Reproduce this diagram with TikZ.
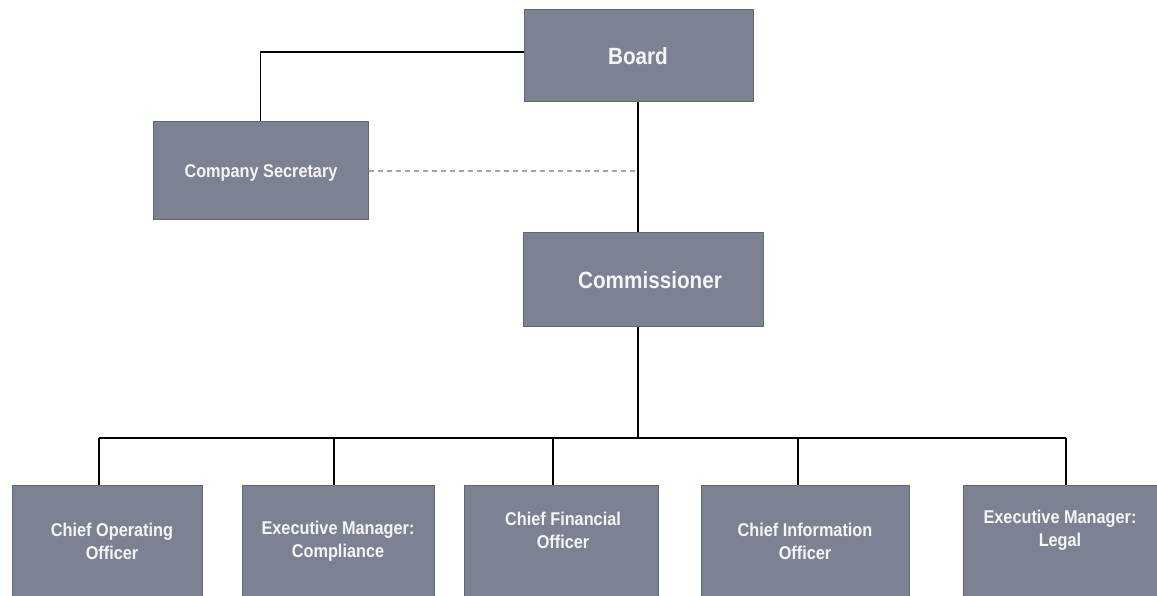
\documentclass[tikz,border=0pt]{standalone}
\usepackage{fontspec}
\newfontfamily\lblfont[FakeStretch=0.88]{Liberation Sans Bold}
\definecolor{boxfill}{RGB}{124,130,145}
\definecolor{boxline}{RGB}{98,103,116}
\definecolor{dashgray}{RGB}{165,165,165}
\definecolor{txtcol}{RGB}{244,245,248}
\begin{document}
\begin{tikzpicture}[x=1pt,y=-1pt,
  orgbox/.style={draw=boxline,fill=boxfill,line width=1pt,inner sep=0pt,
    minimum height=#1},
  orgbox/.default=92pt,
  biglbl/.style={font=\lblfont\fontsize{23.5}{28}\selectfont,text=txtcol,align=center,inner sep=0pt},
  smalllbl/.style={font=\lblfont\fontsize{18.5}{23}\selectfont,text=txtcol,align=center,inner sep=0pt},
  conn/.style={line width=1.8pt,draw=black},
  dconn/.style={line width=1.5pt,draw=dashgray,dash pattern=on 5pt off 4pt}]
\useasboundingbox (0,0) rectangle (1157,596);
% boxes
\node[orgbox=92pt,minimum width=229pt] (board) at (638.5,56) {};
\node[orgbox=98pt,minimum width=215pt] (cs) at (260.5,171) {};
\node[orgbox=93pt,minimum width=240pt] (comm) at (643,279.5) {};
\node[orgbox=115pt,minimum width=190pt] (coo) at (107,542.5) {};
\node[orgbox=115pt,minimum width=192pt] (comp) at (338,542.5) {};
\node[orgbox=115pt,minimum width=194pt] (cfo) at (561,542.5) {};
\node[orgbox=115pt,minimum width=208pt] (cio) at (805,542.5) {};
\node[orgbox=115pt,minimum width=194pt] (legal) at (1060,542.5) {};
% labels
\node[biglbl] (board-t) at (638,56) {Board};
\node[biglbl] (comm-t) at (650,280) {Commissioner};
\node[smalllbl] (cs-t) at (261,173) {Company Secretary};
\node[smalllbl] (coo-t) at (112,541) {Chief Operating\\Officer};
\node[smalllbl] (comp-t) at (338,541) {Executive Manager:\\Compliance};
\node[smalllbl] (cfo-t) at (563,530) {Chief Financial\\Officer};
\node[smalllbl] (cio-t) at (805,541) {Chief Information\\Officer};
\node[smalllbl] (legal-t) at (1060,530) {Executive Manager:\\Legal};
% bus coordinates
\coordinate (bc) at (638,438);
\coordinate (b1) at (99,438);
\coordinate (b2) at (334,438);
\coordinate (b3) at (553,438);
\coordinate (b4) at (798,438);
\coordinate (b5) at (1066,438);
% connectors
\draw[conn] ([yshift=4pt]board.west) -| (cs.north);
\draw[conn] (bc |- board.south) -- (bc |- comm.north);
\draw[dconn] (cs.east) -- (bc |- cs.east);
\draw[conn] (bc |- comm.south) -- (bc);
\draw[conn] (b1) -- (b5);
\draw[conn] (b1) -- (b1 |- coo.north);
\draw[conn] (b2) -- (b2 |- comp.north);
\draw[conn] (b3) -- (b3 |- cfo.north);
\draw[conn] (b4) -- (b4 |- cio.north);
\draw[conn] (b5) -- (b5 |- legal.north);
\end{tikzpicture}
\end{document}
